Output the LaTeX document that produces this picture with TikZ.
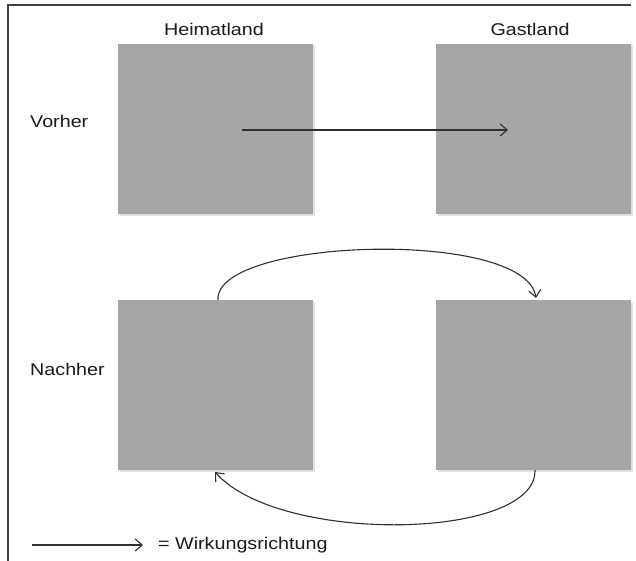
\documentclass[tikz,border=0pt]{standalone}
\usepackage{fontspec}
\setmainfont[FakeStretch=1.16]{Liberation Sans}
\usetikzlibrary{arrows.meta,shadows}
\definecolor{boxgray}{HTML}{A6A6A6}
\definecolor{framegray}{HTML}{404040}
\definecolor{linegray}{HTML}{303030}
\definecolor{txt}{HTML}{1A1A1A}
\tikzset{
  land/.style={fill=boxgray, draw=none, minimum width=195pt, minimum height=170pt, inner sep=0pt,
    drop shadow={shadow xshift=1.5pt, shadow yshift=-1.5pt, fill=black, opacity=0.12}},
  lbl/.style={font=\fontsize{17}{20}\selectfont, text=txt, inner sep=0pt},
  flow/.style={draw=linegray, line width=1.1pt, -{Straight Barb[length=7pt,width=12pt]}},
}
\begin{document}
\begin{tikzpicture}[x=1pt,y=-1pt]
\useasboundingbox (0,0) rectangle (636,561);
\fill[white] (0,0) rectangle (636,561);
% frame
\draw[framegray, line width=1.4pt] (8,561) -- (8,5) -- (631,5);
% boxes
\node[land] (h1) at (215.5,129) {};
\node[land] (g1) at (533.5,129) {};
\node[land] (h2) at (215.5,385) {};
\node[land] (g2) at (533.5,385) {};
% labels
\node[lbl] (th) at (214,29) {Heimatland};
\node[lbl] (tg) at (530,29) {Gastland};
\node[lbl, anchor=west] (vor) at (30,121) {Vorher};
\node[lbl, anchor=west] (nach) at (30,369) {Nachher};
% top arrow
\coordinate (a1) at (242,130);
\coordinate (a2) at (508,130);
\draw[flow] (a1) -- (a2);
% upper arc
\coordinate (u1) at (218,300);
\coordinate (u2) at (536,298);
\draw[flow] (u1) .. controls (214,238) and (525,228) .. (u2);
% lower arc
\coordinate (l1) at (535,470);
\coordinate (l2) at (215,472);
\draw[flow] (l1) .. controls (537,540) and (280,545) .. (l2);
% legend
\coordinate (k1) at (32,545);
\coordinate (k2) at (143,545);
\draw[flow] (k1) -- (k2);
\node[lbl, anchor=west] (leg) at (158,545) {= Wirkungsrichtung};
\end{tikzpicture}
\end{document}
